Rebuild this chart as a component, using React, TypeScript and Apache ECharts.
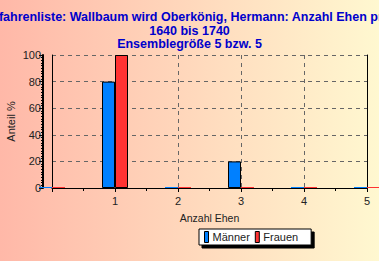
import React, { useEffect, useRef } from "react";
import * as echarts from "echarts";

const titleLine1 = "Vorfahrenliste: Wallbaum wird Oberkönig, Hermann: Anzahl Ehen pro Person";
const titleLine2 = "1640 bis 1740";
const titleLine3 = "Ensemblegröße 5 bzw. 5";
const xName = "Anzahl Ehen";
const yName = "Anteil %";
const categories = ["0", "1", "2", "3", "4", "5"];
const maenner = [0, 80, 0, 20, 0, 0];
const frauen = [0, 100, 0, 0, 0, 0];
const seriesNames = ["Männer", "Frauen"];
const colors = ["#0080ff", "#ff3333"];

const FONT = "Liberation Sans, Arial, sans-serif";
const TITLE_STYLE = { fontFamily: FONT, fontSize: 12.5, fontWeight: "bold", color: "#0000cc" };

function toData(values: number[]) {
  return values.map((v) => ({
    value: v,
    itemStyle: v === 0 ? { borderWidth: 0 } : { borderWidth: 1, borderColor: "#000" },
  }));
}

export default function App() {
  const ref = useRef<HTMLDivElement>(null);
  useEffect(() => {
    if (!ref.current) return;
    const chart = echarts.init(ref.current, undefined, { renderer: "svg" });
    chart.setOption({
      animation: false,
      backgroundColor: {
        type: "linear", x: 0, y: 0, x2: 1, y2: 0,
        colorStops: [
          { offset: 0, color: "#ffb8a8" },
          { offset: 1, color: "#fff8d0" },
        ],
      },
      title: [
        { text: titleLine1, left: -21, top: 10, textStyle: TITLE_STYLE, padding: 0 },
        { text: titleLine2, left: "center", top: 24, textStyle: TITLE_STYLE, padding: 0 },
        { text: titleLine3, left: "center", top: 37, textStyle: TITLE_STYLE, padding: 0 },
      ],
      grid: { left: 52, right: 12, top: 55, bottom: 73, containLabel: false, outerBoundsMode: "none" },
      legend: {
        data: seriesNames,
        left: 199,
        top: 229,
        orient: "horizontal",
        backgroundColor: "#fff",
        borderColor: "#000",
        borderWidth: 1,
        shadowColor: "#000",
        shadowBlur: 0,
        shadowOffsetX: 3,
        shadowOffsetY: 3,
        padding: [2, 13, 2, 5],
        itemGap: 5,
        itemWidth: 4,
        itemHeight: 11,
        icon: "rect",
        textStyle: { fontFamily: FONT, fontSize: 11, color: "#222", padding: [0, 0, 0, -1] },
        itemStyle: { borderColor: "#000", borderWidth: 1 },
      },
      xAxis: [
        {
          type: "value",
          min: 0,
          max: 5,
          interval: 1,
          name: xName,
          nameLocation: "middle",
          nameGap: 24,
          nameMoveOverlap: false,
          nameTextStyle: { fontFamily: FONT, fontSize: 10.5, color: "#222" },
          axisLine: { show: true, onZero: false, lineStyle: { color: "#000", width: 1 } },
          axisTick: { show: true, length: 4, lineStyle: { color: "#000" } },
          minorTick: { show: true, splitNumber: 2, length: 3, lineStyle: { color: "#000" } },
          axisLabel: {
            fontFamily: FONT, fontSize: 11, color: "#222", margin: 7,
            formatter: (v: number) => (v === 0 ? "" : String(v)),
          },
          splitLine: { show: true, lineStyle: { color: "#666", type: [4, 4], width: 1 } },
        },
        {
          type: "category",
          data: categories,
          boundaryGap: false,
          show: false,
        },
      ],
      yAxis: [
        {
          type: "value",
          min: 0,
          max: 100,
          interval: 20,
          offset: 9,
          name: yName,
          nameLocation: "middle",
          nameGap: 27,
          nameMoveOverlap: false,
          nameRotate: 90,
          nameTextStyle: { fontFamily: FONT, fontSize: 11, color: "#222" },
          axisLine: { show: true, onZero: false, lineStyle: { color: "#000", width: 2 } },
          axisTick: { show: true, length: 4, lineStyle: { color: "#000" } },
          minorTick: { show: true, splitNumber: 10, length: 2, lineStyle: { color: "#000" } },
          axisLabel: { fontFamily: FONT, fontSize: 11, color: "#222", margin: 2 },
          splitLine: { show: true, lineStyle: { color: "#666", type: [4, 4], width: 1 } },
        },
        {
          type: "value",
          min: 0,
          max: 100,
          interval: 20,
          position: "left",
          offset: 0,
          axisLine: { show: true, onZero: false, lineStyle: { color: "#000", width: 1 } },
          axisTick: { show: false },
          axisLabel: { show: false },
          splitLine: { show: false },
        },
        {
          type: "value",
          min: 0,
          max: 100,
          interval: 20,
          position: "right",
          offset: 0,
          axisLine: { show: true, onZero: false, lineStyle: { color: "#000", width: 1 } },
          axisTick: { show: false },
          axisLabel: { show: false },
          splitLine: { show: false },
        },
      ],
      series: [
        {
          name: seriesNames[0],
          type: "bar",
          xAxisIndex: 1,
          data: toData(maenner),
          barWidth: 13,
          barGap: "0%",
          barMinHeight: 1,
          clip: false,
          itemStyle: { color: colors[0] },
          z: 3,
        },
        {
          name: seriesNames[1],
          type: "bar",
          xAxisIndex: 1,
          data: toData(frauen),
          barWidth: 13,
          barGap: "0%",
          barMinHeight: 1,
          clip: false,
          itemStyle: { color: colors[1] },
          z: 3,
        },
      ],
    });
    return () => chart.dispose();
  }, []);
  return <div ref={ref} style={{ width: 379, height: 261, position: "fixed", left: 0, top: 0 }} />;
}
